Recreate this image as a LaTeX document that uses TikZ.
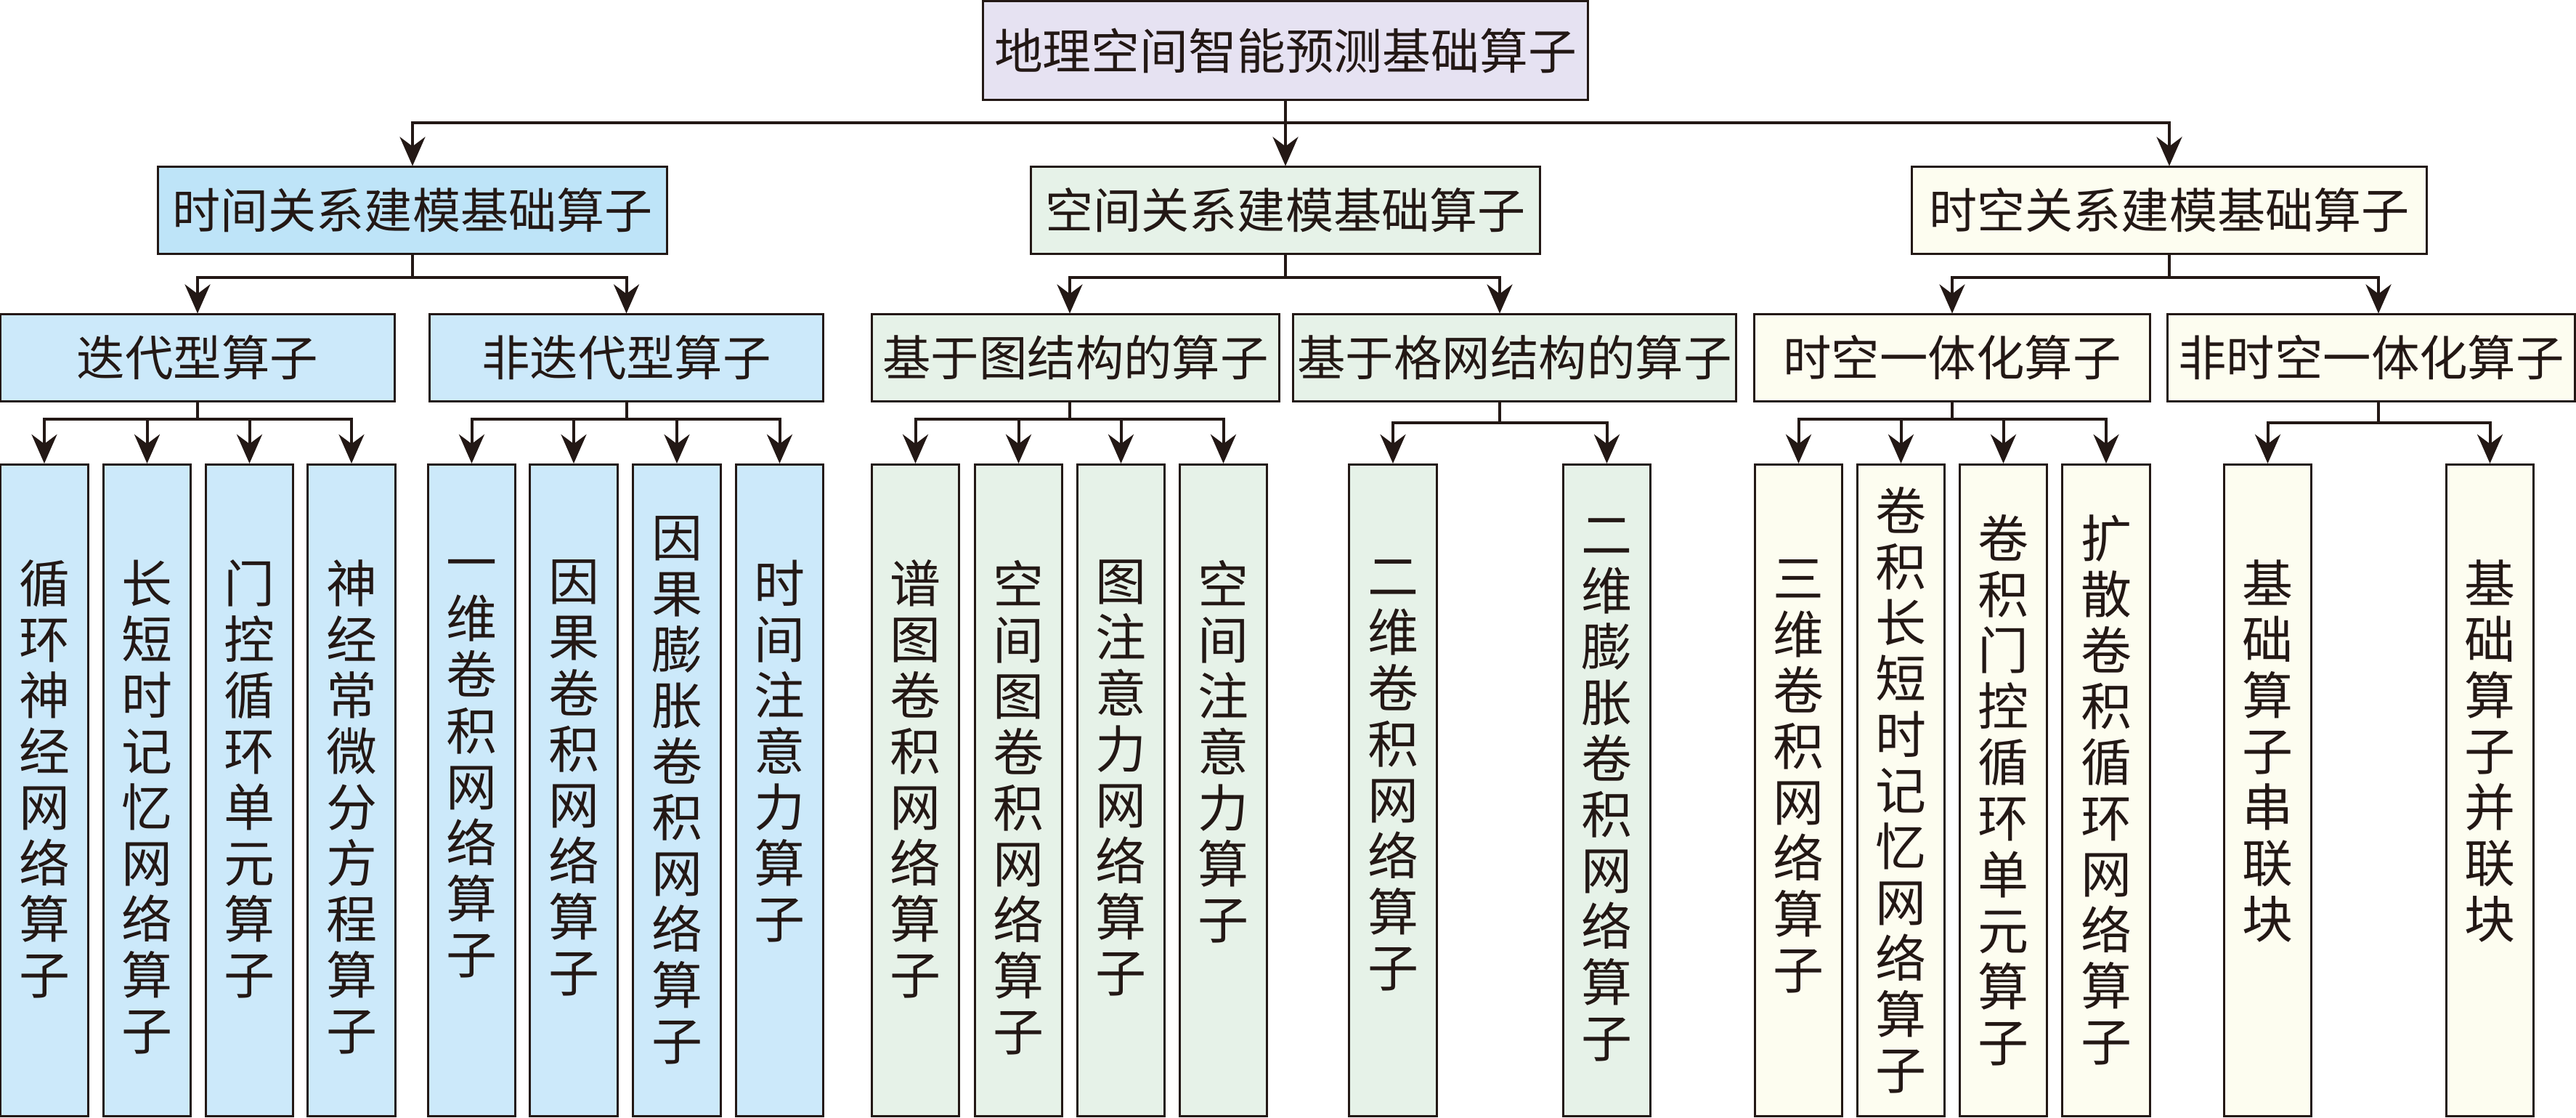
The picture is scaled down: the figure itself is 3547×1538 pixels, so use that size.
\documentclass[tikz,border=0pt]{standalone}
\usepackage{fontspec}
\setmainfont{Noto Sans CJK SC}
\usetikzlibrary{arrows.meta}
\definecolor{ink}{HTML}{231815}
\definecolor{rootc}{HTML}{E6E2F2}
\definecolor{timea}{HTML}{BEE4F8}
\definecolor{timeb}{HTML}{CCE9FA}
\definecolor{spc}{HTML}{E6F2E8}
\definecolor{stc}{HTML}{FDFDF0}

\begin{document}
\begin{tikzpicture}[x=0.01cm, y=-0.01cm]
      \tikzstyle{every node}+=[inner sep=0pt, text=ink]
      \tikzstyle{box}=[draw=ink, line width=0.03cm]
      \tikzstyle{rootbox}=[box, fill=rootc, minimum height=1.36cm, font=\fontsize{19pt}{22pt}\selectfont]
      \tikzstyle{lvlone}=[box, minimum height=1.19cm, font=\fontsize{18.8pt}{21pt}\selectfont]
      \tikzstyle{lvltwo}=[box, minimum height=1.19cm, font=\fontsize{18.9pt}{21pt}\selectfont]
      \tikzstyle{leaf}=[box, minimum width=1.2cm, minimum height=8.96cm, anchor=north]
      \tikzstyle{vtext}=[align=center, font=\fontsize{19.9pt}{21.9pt}\selectfont, execute at begin node={\rule{0pt}{0.88em}}]
      \tikzstyle{vtop}=[vtext, anchor=north, yshift=-1.32cm]
      \tikzstyle{vmid}=[vtext, anchor=center]
      \tikzstyle{wire}=[draw=ink, line width=0.04cm]
      \tikzstyle{arr}=[wire, -{Stealth[length=0.4cm, width=0.35cm, inset=0.13cm]}]
      \useasboundingbox (0,0) rectangle (3547,1538);

      \node [rootbox, minimum width=8.33cm] (root) at (1770,69.5) {地理空间智能预测基础算子};

      \node [lvlone, fill=timea, minimum width=7cm] (tm) at (568,289.5) {时间关系建模基础算子};
      \node [lvlone, fill=spc, minimum width=7cm] (sp) at (1770,289.5) {空间关系建模基础算子};
      \node [lvlone, fill=stc, minimum width=7.08cm] (st) at (2987,289.5) {时空关系建模基础算子};

      \node [lvltwo, fill=timeb, minimum width=5.42cm] (it) at (272,492.5) {迭代型算子};
      \node [lvltwo, fill=timeb, minimum width=5.41cm] (ni) at (862.5,492.5) {非迭代型算子};
      \node [lvltwo, fill=spc, minimum width=5.6cm] (gr) at (1481,492.5) {基于图结构的算子};
      \node [lvltwo, fill=spc, minimum width=6.09cm] (gw) at (2085.5,492.5) {基于格网结构的算子};
      \node [lvltwo, fill=stc, minimum width=5.44cm] (ti) at (2688,492.5) {时空一体化算子};
      \node [lvltwo, fill=stc, minimum width=5.6cm] (nt) at (3265,492.5) {非时空一体化算子};

      \node [leaf, fill=timeb] (a1) at (61,638) {};
      \node [leaf, fill=timeb] (a2) at (202.5,638) {};
      \node [leaf, fill=timeb] (a3) at (343.5,638) {};
      \node [leaf, fill=timeb] (a4) at (484,638) {};
      \node [leaf, fill=timeb] (b1) at (649.5,638) {};
      \node [leaf, fill=timeb] (b2) at (790,638) {};
      \node [leaf, fill=timeb] (b3) at (932,638) {};
      \node [leaf, fill=timeb] (b4) at (1073.5,638) {};
      \node [leaf, fill=spc] (c1) at (1260.5,638) {};
      \node [leaf, fill=spc] (c2) at (1402.5,638) {};
      \node [leaf, fill=spc] (c3) at (1543.5,638) {};
      \node [leaf, fill=spc] (c4) at (1684.5,638) {};
      \node [leaf, fill=spc] (d1) at (1918,638) {};
      \node [leaf, fill=spc] (d2) at (2212.5,638) {};
      \node [leaf, fill=stc] (e1) at (2476.5,638) {};
      \node [leaf, fill=stc] (e2) at (2617.5,638) {};
      \node [leaf, fill=stc] (e3) at (2758.5,638) {};
      \node [leaf, fill=stc] (e4) at (2900,638) {};
      \node [leaf, fill=stc] (f1) at (3122.5,638) {};
      \node [leaf, fill=stc] (f2) at (3428.5,638) {};

      \node [vtop] (a1t) at (a1.north) {循\\环\\神\\经\\网\\络\\算\\子};
      \node [vtop] (a2t) at (a2.north) {长\\短\\时\\记\\忆\\网\\络\\算\\子};
      \node [vtop] (a3t) at (a3.north) {门\\控\\循\\环\\单\\元\\算\\子};
      \node [vtop] (a4t) at (a4.north) {神\\经\\常\\微\\分\\方\\程\\算\\子};
      \node [vtop] (b1t) at (b1.north) {一\\维\\卷\\积\\网\\络\\算\\子};
      \node [vtop] (b2t) at (b2.north) {因\\果\\卷\\积\\网\\络\\算\\子};
      \node [vmid] (b3t) at (b3.center) {因\\果\\膨\\胀\\卷\\积\\网\\络\\算\\子};
      \node [vtop] (b4t) at (b4.north) {时\\间\\注\\意\\力\\算\\子};
      \node [vtop] (c1t) at (c1.north) {谱\\图\\卷\\积\\网\\络\\算\\子};
      \node [vtop] (c2t) at (c2.north) {空\\间\\图\\卷\\积\\网\\络\\算\\子};
      \node [vtop] (c3t) at (c3.north) {图\\注\\意\\力\\网\\络\\算\\子};
      \node [vtop] (c4t) at (c4.north) {空\\间\\注\\意\\力\\算\\子};
      \node [vtop] (d1t) at (d1.north) {二\\维\\卷\\积\\网\\络\\算\\子};
      \node [vmid] (d2t) at (d2.center) {二\\维\\膨\\胀\\卷\\积\\网\\络\\算\\子};
      \node [vtop] (e1t) at (e1.north) {三\\维\\卷\\积\\网\\络\\算\\子};
      \node [vmid] (e2t) at (e2.center) {卷\\积\\长\\短\\时\\记\\忆\\网\\络\\算\\子};
      \node [vmid] (e3t) at (e3.center) {卷\\积\\门\\控\\循\\环\\单\\元\\算\\子};
      \node [vmid] (e4t) at (e4.center) {扩\\散\\卷\\积\\循\\环\\网\\络\\算\\子};
      \node [vtop] (f1t) at (f1.north) {基\\础\\算\\子\\串\\联\\块};
      \node [vtop] (f2t) at (f2.north) {基\\础\\算\\子\\并\\联\\块};

      \coordinate (j0) at (1770,169);
      \coordinate (jt) at (568,382);
      \coordinate (js) at (1770,382);
      \coordinate (jst) at (2987,382);
      \coordinate (jit) at (272,577);
      \coordinate (jni) at (862.5,577);
      \coordinate (jgr) at (1473,577);
      \coordinate (jgw) at (2065,582);
      \coordinate (jti) at (2688,577);
      \coordinate (jnt) at (3275,582);

      \draw [wire] (root.south) -- (j0);
      \draw [arr] (j0) -| (tm.north);
      \draw [arr] (j0) -- (sp.north);
      \draw [arr] (j0) -| (st.north);

      \draw [wire] (tm.south) -- (jt);
      \draw [arr] (jt) -| (jit |- it.north);
      \draw [arr] (jt) -| (jni |- ni.north);
      \draw [wire] (sp.south) -- (js);
      \draw [arr] (js) -| (jgr |- gr.north);
      \draw [arr] (js) -| (jgw |- gw.north);
      \draw [wire] (st.south) -- (jst);
      \draw [arr] (jst) -| (jti |- ti.north);
      \draw [arr] (jst) -| (jnt |- nt.north);

      \draw [wire] (jit |- it.south) -- (jit);
      \draw [arr] (jit) -| (a1.north);
      \draw [arr] (jit) -| (a2.north);
      \draw [arr] (jit) -| (a3.north);
      \draw [arr] (jit) -| (a4.north);
      \draw [wire] (jni |- ni.south) -- (jni);
      \draw [arr] (jni) -| (b1.north);
      \draw [arr] (jni) -| (b2.north);
      \draw [arr] (jni) -| (b3.north);
      \draw [arr] (jni) -| (b4.north);
      \draw [wire] (jgr |- gr.south) -- (jgr);
      \draw [arr] (jgr) -| (c1.north);
      \draw [arr] (jgr) -| (c2.north);
      \draw [arr] (jgr) -| (c3.north);
      \draw [arr] (jgr) -| (c4.north);
      \draw [wire] (jgw |- gw.south) -- (jgw);
      \draw [arr] (jgw) -| (d1.north);
      \draw [arr] (jgw) -| (d2.north);
      \draw [wire] (jti |- ti.south) -- (jti);
      \draw [arr] (jti) -| (e1.north);
      \draw [arr] (jti) -| (e2.north);
      \draw [arr] (jti) -| (e3.north);
      \draw [arr] (jti) -| (e4.north);
      \draw [wire] (jnt |- nt.south) -- (jnt);
      \draw [arr] (jnt) -| (f1.north);
      \draw [arr] (jnt) -| (f2.north);
    \end{tikzpicture}
\end{document}
